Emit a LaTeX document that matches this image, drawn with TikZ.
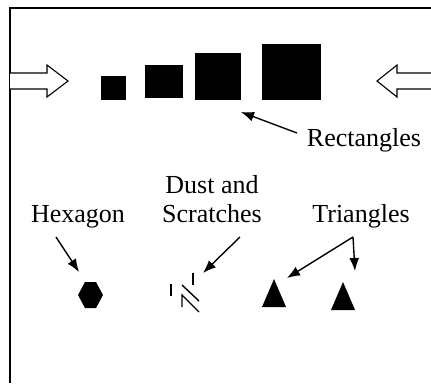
\documentclass[tikz,border=0pt]{standalone}
\usepackage{fontspec}
\setmainfont{Liberation Serif}
\usetikzlibrary{arrows.meta,calc,positioning}
\tikzset{%
	txt/.style     = {inner sep=0pt, font=\fontsize{26}{29}\selectfont},
	blob/.style    = {fill=black, draw=none, inner sep=0pt}, % filled square
	pointer/.style = {line width=1.4pt, ->},
	hollow/.style  = {draw, line width=1.1pt, fill=white, line join=miter}, % block arrow
	frame/.style   = {line width=1.8pt},
	scratch/.style = {line width=1.4pt},
}

\begin{document}
\begin{tikzpicture}[x=1pt,y=-1pt,>={Latex[length=13pt,width=10pt]}]
	\useasboundingbox (0,0) rectangle (431,383);
	\draw[frame] (10,383) -- (10,8) -- (431,8);

	% block arrows
	\draw[hollow] (10,73) -- (47,73) -- (47,65) -- (68,81) -- (47,97) -- (47,89) -- (10,89);
	\draw[hollow] (431,73) -- (397,73) -- (397,65) -- (377,81) -- (397,97) -- (397,89) -- (431,89);

	% rectangles
	\node [blob, minimum width=25pt, minimum height=24pt] (sqa) at (113.5,88) {};
	\node [blob, minimum width=38pt, minimum height=33pt] (sqb) at (164,81.5) {};
	\node [blob, minimum width=46pt, minimum height=47pt] (sqc) at (218,76.5) {};
	\node [blob, minimum width=59pt, minimum height=56pt] (sqd) at (291.5,72) {};

	% hexagon, scratches, triangles
	\fill (78,295) -- (85,282) -- (96,282) -- (103,295) -- (96,308) -- (85,308) -- cycle;
	\fill (262,307) -- (274,279) -- (286,307) -- cycle;
	\fill (331,310) -- (343,282) -- (355,310) -- cycle;
	\draw[scratch] (171,284) -- (171,296);
	\draw[scratch] (193,273) -- (193,285);
	\draw[scratch] (182,285) -- (199,301);
	\draw[scratch] (182,307) -- (182,295) -- (199,312);

	\coordinate (rectpt) at (241,112);
	\coordinate (hexpt) at (79,272);
	\coordinate (dustpt) at (203,273);
	\coordinate (tripta) at (287,278);
	\coordinate (triptb) at (355,271);

	% labels
	\node [txt, anchor=base] (rectlbl) at (364,146) {Rectangles};
	\node [txt, anchor=base] (hexlbl) at (78,222) {Hexagon};
	\node [txt, anchor=base, align=center] (dustlbl) at (212,222) {Dust and\\Scratches};
	\node [txt, anchor=base] (trilbl) at (361,222) {Triangles};

	\draw[pointer] ([shift={(-67,-13)}]rectlbl.base) -- (rectpt);
	\draw[pointer] ([shift={(-22,15)}]hexlbl.base) -- (hexpt);
	\draw[pointer] ([shift={(28,15)}]dustlbl.base) -- (dustpt);
	\draw[pointer] ([shift={(-8,15)}]trilbl.base) -- (tripta);
	\draw[pointer] ([shift={(-8,15)}]trilbl.base) -- (triptb);
\end{tikzpicture}
\end{document}
